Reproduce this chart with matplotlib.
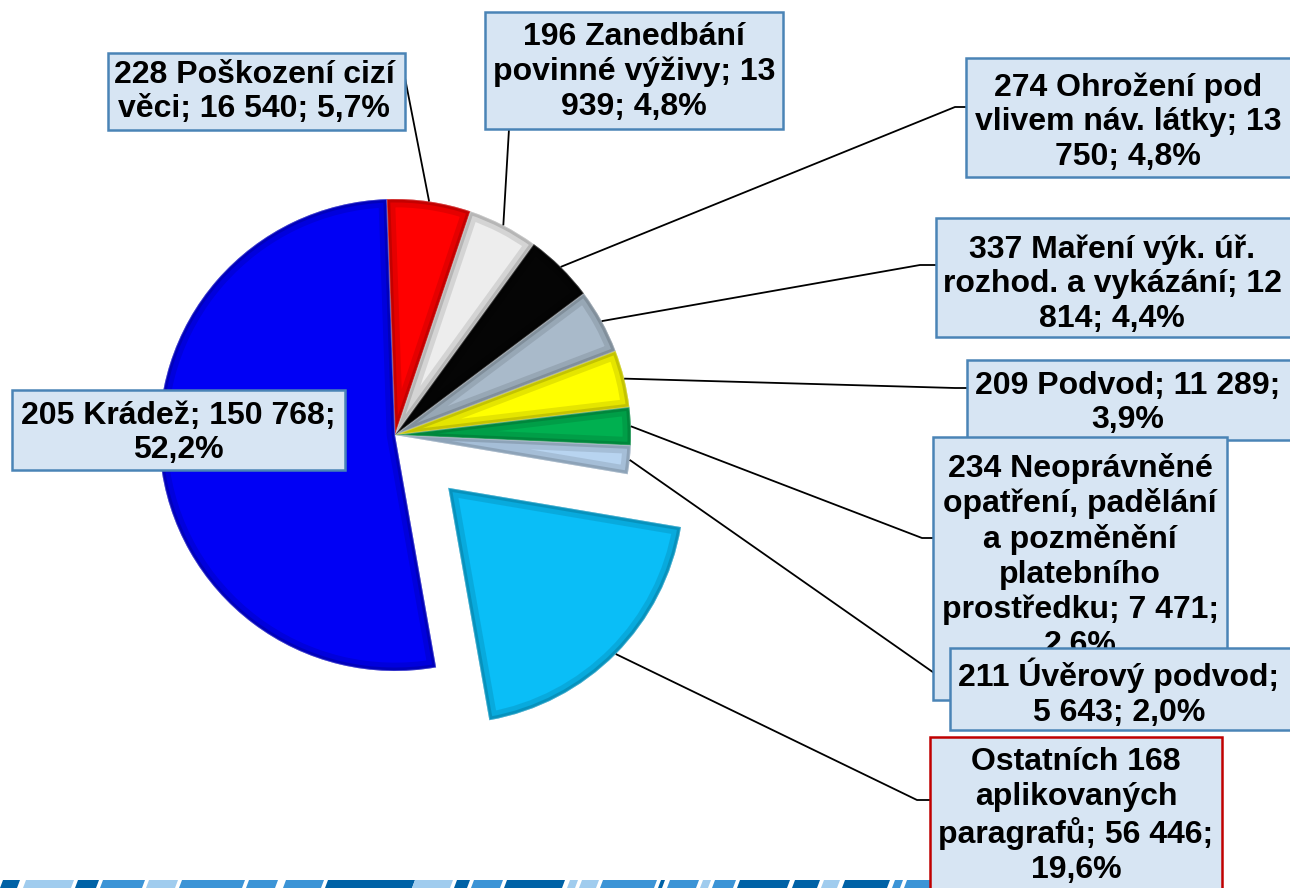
import matplotlib.pyplot as plt
import numpy as np
from matplotlib.patches import Polygon, Rectangle, Wedge

W, H = 1290, 888

# data, clockwise from the top
counts = [16540, 13939, 13750, 12814, 11289, 7471, 5643, 56446, 150768]
labels = [
    "228 Poškození cizí\nvěci; 16 540; 5,7%",
    "196 Zanedbání\npovinné výživy; 13\n939; 4,8%",
    "274 Ohrožení pod\nvlivem náv. látky; 13\n750; 4,8%",
    "337 Maření výk. úř.\nrozhod. a vykázání; 12\n814; 4,4%",
    "209 Podvod; 11 289;\n3,9%",
    "234 Neoprávněné\nopatření, padělání\na pozměnění\nplatebního\nprostředku; 7 471;\n2,6%",
    "211 Úvěrový podvod;\n5 643; 2,0%",
    "Ostatních 168\naplikovaných\nparagrafů; 56 446;\n19,6%",
    "205 Krádež; 150 768;\n52,2%",
]
colors = ["#FF0000", "#EDEDED", "#050505", "#A9BACA", "#FFFF00",
          "#00B050", "#B8D4F0", "#0ABEF7", "#0000F5"]
explode = [0, 0, 0, 0, 0, 0, 0, 75, 0]

# label boxes in pixels: (left, top, right, bottom, text centre x, text centre y)
boxes = [
    (108, 53, 405, 130, 254, 92),
    (485, 12, 783, 129, 634, 72),
    (966, 58, 1293, 177, 1128, 122),
    (936, 218, 1293, 337, 1112, 284),
    (967, 360, 1293, 440, 1128, 403),
    (933, 437, 1227, 700, 1080, 556),
    (950, 648, 1293, 730, 1119, 693),
    (930, 737, 1222, 900, 1076, 816),
    (12, 390, 345, 470, 178, 433),
]
# connector points from the pie to each box (pixels)
leaders = [
    [(405, 78)],
    [(509, 129)],
    [(955, 107), (966, 107)],
    [(920, 265), (936, 265)],
    [(955, 388), (967, 388)],
    [(922, 538), (933, 538)],
    [(937, 675), (950, 677)],
    [(917, 800), (930, 800)],
    None,
]


def py(y):
    return H - y


fig = plt.figure(figsize=(W / 100, H / 100), dpi=100)
ax = fig.add_axes([0, 0, 1, 1])

wedges, _ = ax.pie(counts, colors=colors, startangle=92, counterclock=False,
                   radius=236, center=(395, py(435)), explode=explode,
                   frame=True, wedgeprops=dict(linewidth=0))

# bevel look: soft dark band along the inside of every slice
for w, c in zip(wedges, colors):
    for lw, col, a in [(12, "black", 0.10), (5, "black", 0.14), (1.2, "white", 0.25)]:
        p = Wedge(w.center, w.r, w.theta1, w.theta2, fill=False, ec=col,
                  lw=lw, alpha=a, zorder=w.get_zorder() + 0.1)
        ax.add_patch(p)
        p.set_clip_path(w)

# leader lines
for w, pts in zip(wedges, leaders):
    if pts is None:
        continue
    tm = np.deg2rad((w.theta1 + w.theta2) / 2)
    x0 = w.center[0] + w.r * np.cos(tm)
    y0 = w.center[1] + w.r * np.sin(tm)
    xs = [x0] + [p[0] for p in pts]
    ys = [y0] + [py(p[1]) for p in pts]
    ax.plot(xs, ys, color="black", lw=1.3, zorder=3, solid_capstyle="butt")

# label boxes
for i, (lab, b) in enumerate(zip(labels, boxes)):
    l, t, r, btm, cx, cy = b
    ec = "#C00000" if i == 7 else "#4A84B6"
    ax.add_patch(Rectangle((l, py(btm)), r - l, btm - t, fc="#D7E5F3", ec=ec,
                           lw=1.8, zorder=4 + i * 0.01))
    ax.text(cx, py(cy), lab, ha="center", va="center", multialignment="center",
            fontsize=23, fontweight="bold", family="Liberation Sans",
            linespacing=1.2, zorder=4 + i * 0.01 + 0.005)

# decorative footer stripe
stripe = [(0, 17, 0), (23, 71, 2), (75, 96, 0), (100, 142, 1), (146, 175, 2),
          (179, 242, 1), (246, 275, 1), (283, 321, 1), (325, 412, 0),
          (412, 450, 2), (454, 467, 0), (471, 500, 1), (504, 562, 0),
          (567, 575, 2), (579, 596, 2), (600, 654, 1), (658, 662, 0),
          (667, 696, 1), (700, 708, 2), (712, 733, 1), (737, 787, 0),
          (792, 817, 0), (821, 837, 2), (842, 887, 0), (892, 900, 1),
          (904, 945, 1)]
stripe_cols = ["#0062A6", "#3C94D6", "#A0CCEE"]
for a, b, k in stripe:
    ax.add_patch(Polygon([(a, py(888)), (b, py(888)), (b + 3, py(880)), (a + 3, py(880))],
                         closed=True, fc=stripe_cols[k], ec="none", zorder=2))

ax.set_xlim(0, W)
ax.set_ylim(0, H)
ax.set_aspect("equal")
ax.axis("off")

fig.savefig("out.png", dpi=100, facecolor="white")
